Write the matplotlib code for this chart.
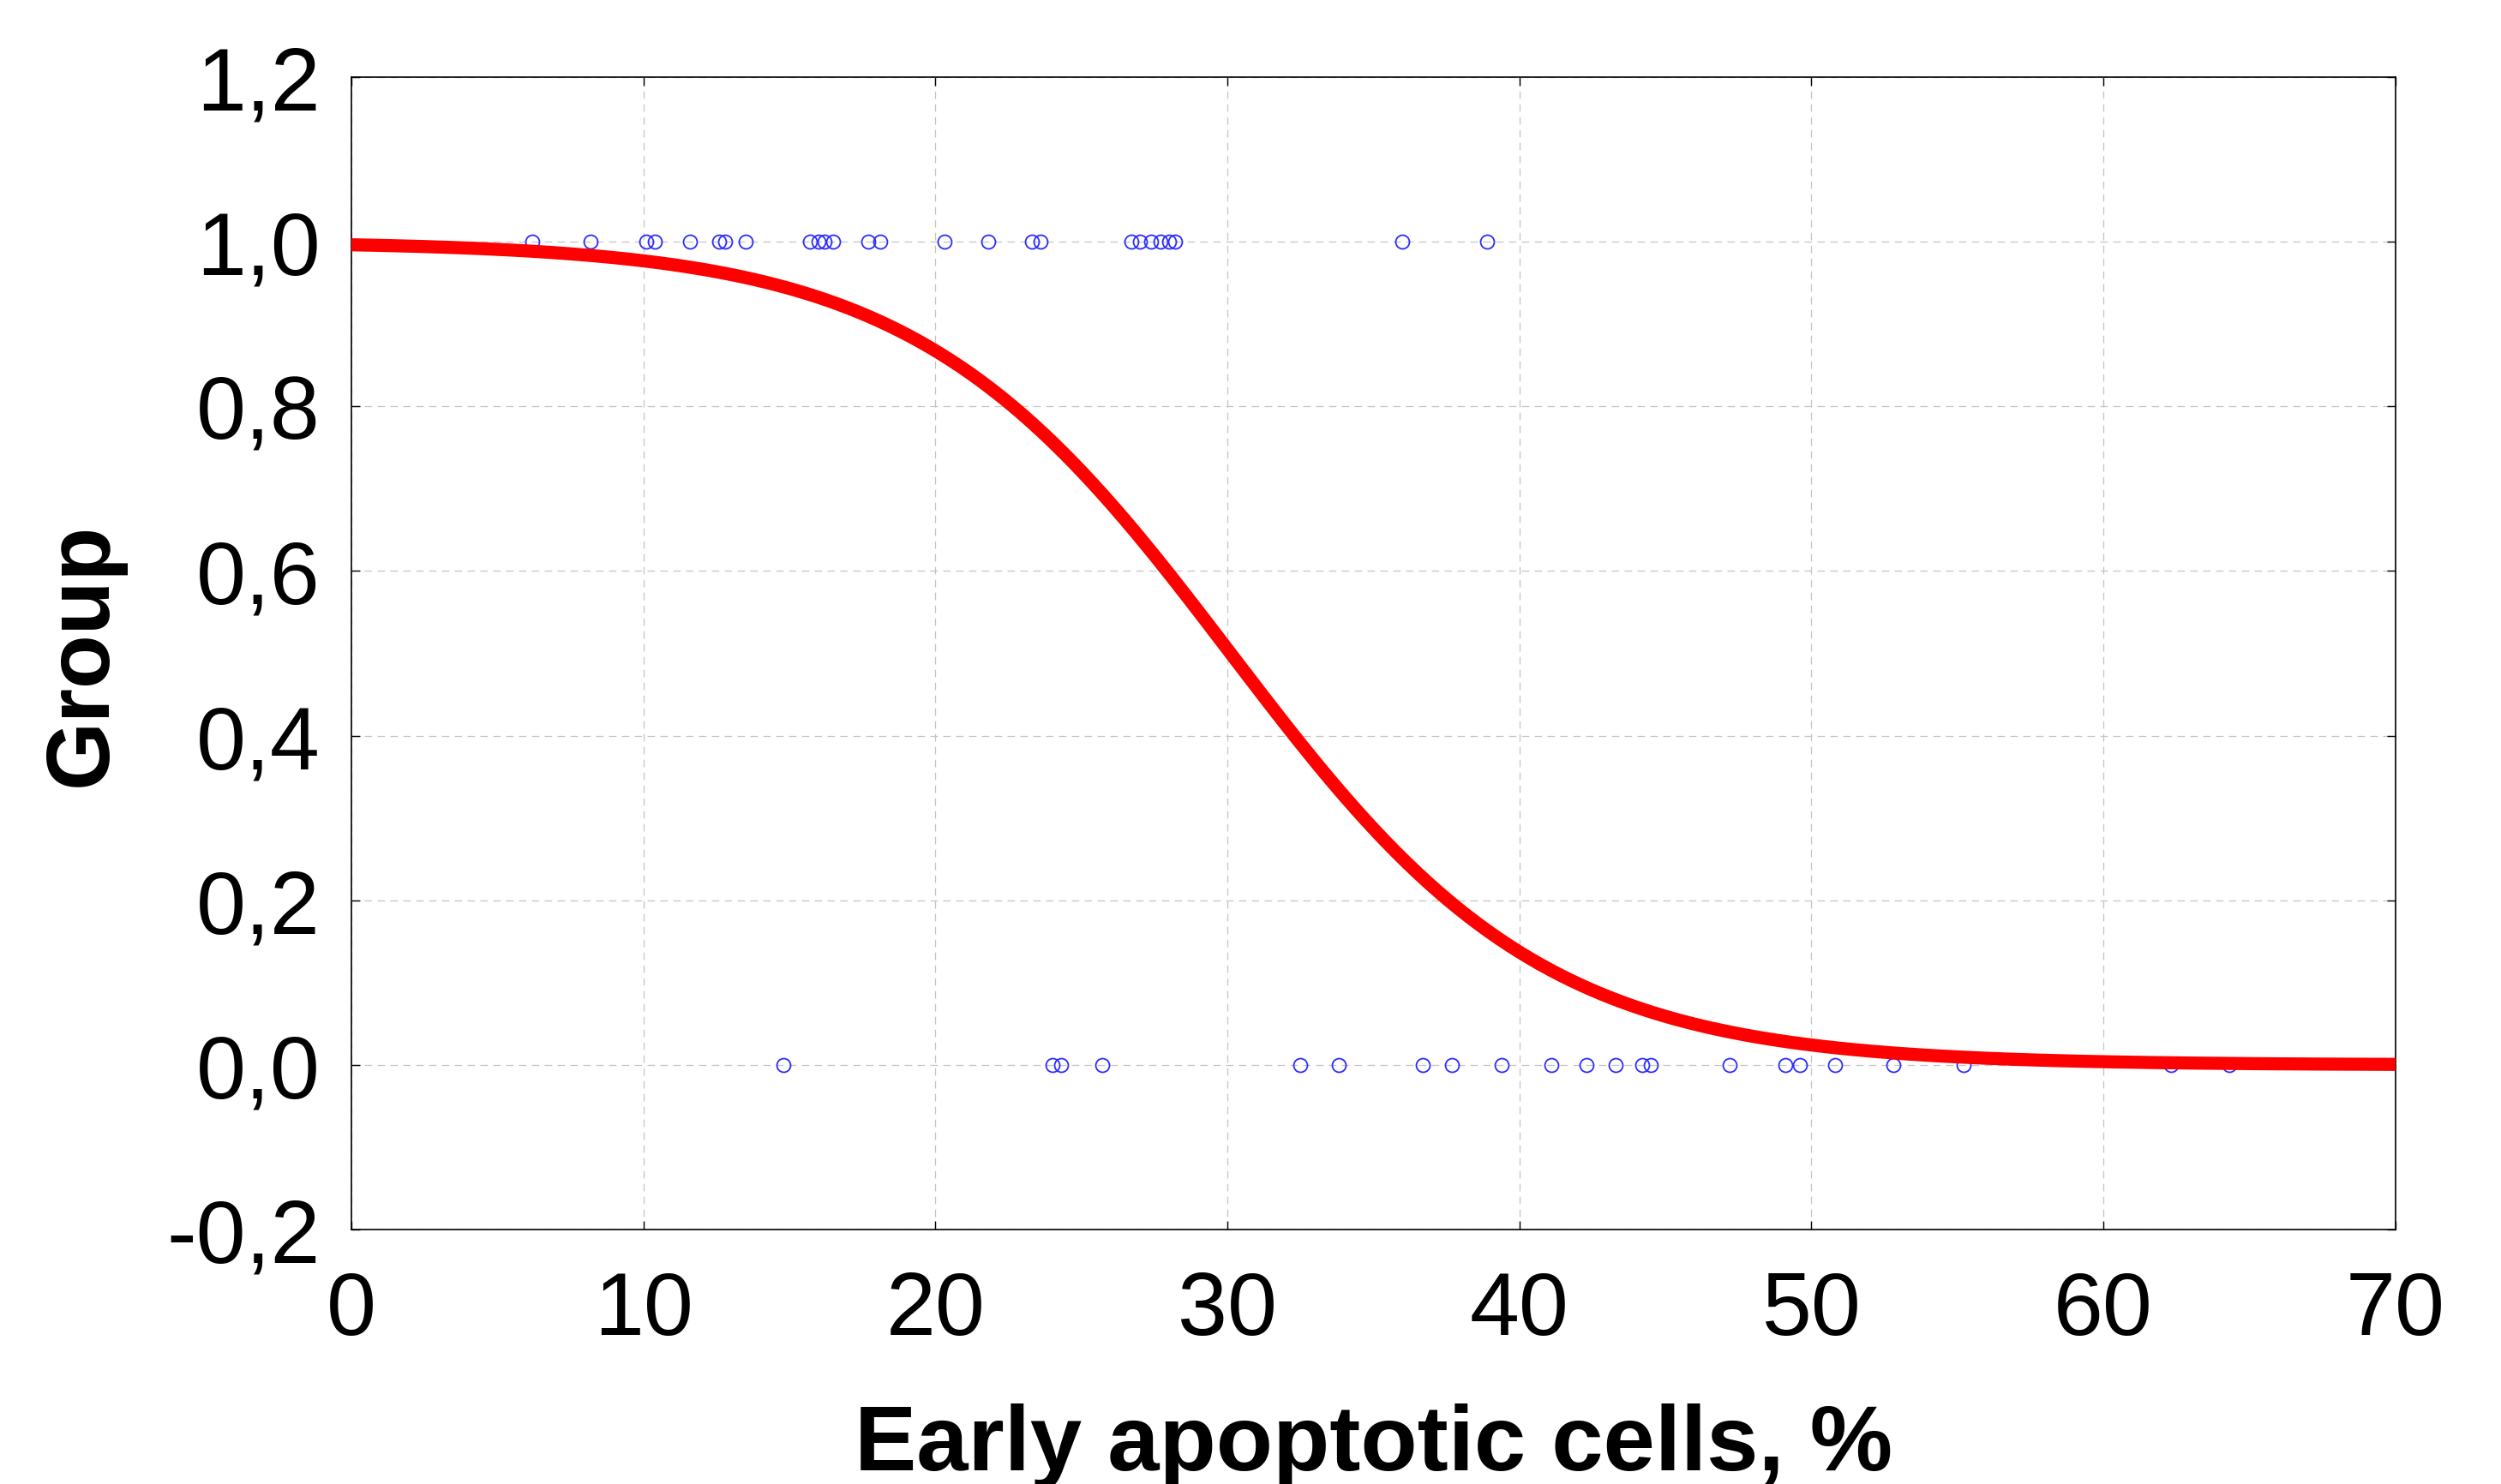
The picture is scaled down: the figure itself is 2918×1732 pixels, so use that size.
import numpy as np
import matplotlib
matplotlib.use("Agg")
import matplotlib.pyplot as plt
from matplotlib.ticker import FuncFormatter, MultipleLocator

plt.rcParams['font.family'] = ['Liberation Sans', 'DejaVu Sans']

# observed cases, group 1 (top row)
group1_x = [6.2, 8.2, 10.1, 10.4, 11.6, 12.6, 12.8, 13.5, 15.7, 16.0, 16.2, 16.5,
            17.7, 18.1, 20.3, 21.8, 23.3, 23.6, 26.7, 27.0, 27.4, 27.7, 28.0, 28.2,
            36.0, 38.9]
# observed cases, group 0 (bottom row)
group0_x = [14.8, 24.0, 24.3, 25.7, 32.5, 33.8, 36.7, 37.7, 39.4, 41.1, 42.3, 43.3,
            44.2, 44.5, 47.2, 49.1, 49.6, 50.8, 52.8, 55.2, 62.3, 64.3]

# fitted logistic model: p = 1 / (1 + exp(-(b0 + b1*x)))
b0 = 5.6
b1 = -0.186

fig = plt.figure(figsize=(29.18, 17.33), dpi=100)
ax = fig.add_axes([0.1405, 0.1714, 0.8173, 0.7761])

xs = np.linspace(0, 70, 400)
p = 1.0 / (1.0 + np.exp(-(b0 + b1 * xs)))

ax.plot(group1_x, [1.0] * len(group1_x), 'o', mfc='none', mec='#2b2bff',
        ms=11.5, mew=1.3, zorder=3, clip_on=False)
ax.plot(group0_x, [0.0] * len(group0_x), 'o', mfc='none', mec='#2b2bff',
        ms=11.5, mew=1.3, zorder=3, clip_on=False)
ax.plot(xs, p, color='red', lw=11, solid_capstyle='butt', zorder=4, clip_on=False)

ax.set_xlim(0, 70)
ax.set_ylim(-0.2, 1.2)
ax.xaxis.set_major_locator(MultipleLocator(10))
ax.yaxis.set_major_locator(MultipleLocator(0.2))
ax.yaxis.set_major_formatter(FuncFormatter(lambda v, pos: "{:.1f}".format(v + 0.0).replace('.', ',')))

ax.grid(True, color='#c4c4c4', linestyle=(0, (7, 5)), linewidth=0.9)
ax.set_axisbelow(True)
ax.tick_params(direction='in', length=7, width=1, top=True, right=True,
               labelsize=75, pad=26)
ax.tick_params(axis='x', pad=34)
for s in ax.spines.values():
    s.set_linewidth(1.2)

ax.set_xlabel("Early apoptotic cells, %", fontsize=78, fontweight='bold')
ax.set_ylabel("Group", fontsize=74, fontweight='bold')
ax.xaxis.set_label_coords(0.5, -0.150)
ax.yaxis.set_label_coords(-0.111, 0.5)

fig.savefig("out.png", dpi=100, facecolor='white')
